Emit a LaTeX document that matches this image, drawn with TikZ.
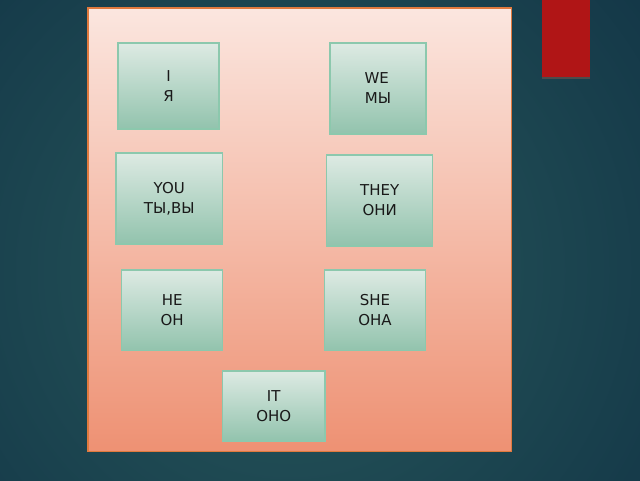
\documentclass[tikz,border=0pt]{standalone}
\usepackage{fontspec}
\setmainfont{DejaVu Sans}
\definecolor{bgdark}{HTML}{143848}
\definecolor{bglight}{HTML}{28595C}
\definecolor{paneltop}{HTML}{FBE6DF}
\definecolor{panelbot}{HTML}{EE9173}
\definecolor{panelborder}{HTML}{E07A3E}
\definecolor{boxtop}{HTML}{DDEAE3}
\definecolor{boxbot}{HTML}{92C3AD}
\definecolor{boxborder}{HTML}{8CC8AD}
\definecolor{redbar}{HTML}{B01516}
\begin{document}
\begin{tikzpicture}[x=0.75pt,y=0.75pt,
  pbox/.style={rectangle, draw=boxborder, line width=1pt, top color=boxtop, bottom color=boxbot,
    align=center, text=black!90, inner sep=0pt,
    font=\fontsize{11.25pt}{15pt}\selectfont}]
\useasboundingbox (0,0) rectangle (640,480);
% background
\begin{scope}
\clip (0,0) rectangle (640,480);
\fill[bgdark] (0,0) rectangle (640,480);
\shade[inner color=bglight, outer color=bgdark] (290,210) circle (440);
\end{scope}
% red bar with shadow
\fill[black!70] (541.7,401.5) rectangle (590,404);
\fill[redbar] (541.7,403) rectangle (590,480);
% panel
\node[draw=panelborder, line width=0.9pt, top color=paneltop, bottom color=panelbot,
  minimum width=423.7*0.75pt, minimum height=443.7*0.75pt, inner sep=0pt] (panel) at (299.85,250.15) {};
% boxes
\node[pbox, minimum width=101*0.75pt, minimum height=86*0.75pt] (i) at (168.5,394) {I\\Я};
\node[pbox, minimum width=96*0.75pt, minimum height=91*0.75pt] (we) at (378,391.5) {WE\hphantom{\,}\\МЫ};
\node[pbox, minimum width=106.7*0.75pt, minimum height=91*0.75pt] (you) at (169.3,281.5) {YOU\\ТЫ,ВЫ};
\node[pbox, minimum width=106*0.75pt, minimum height=91*0.75pt] (they) at (379.7,279.5) {THEY\\ОНИ};
\node[pbox, minimum width=101*0.75pt, minimum height=80.7*0.75pt] (he) at (172.2,169.7) {HE\\ОН};
\node[pbox, minimum width=101.4*0.75pt, minimum height=80.7*0.75pt] (she) at (375,169.7) {SHE\\ОНА};
\node[pbox, minimum width=102.7*0.75pt, minimum height=70*0.75pt] (it) at (273.7,74) {IT\\ОНО};
\end{tikzpicture}
\end{document}
